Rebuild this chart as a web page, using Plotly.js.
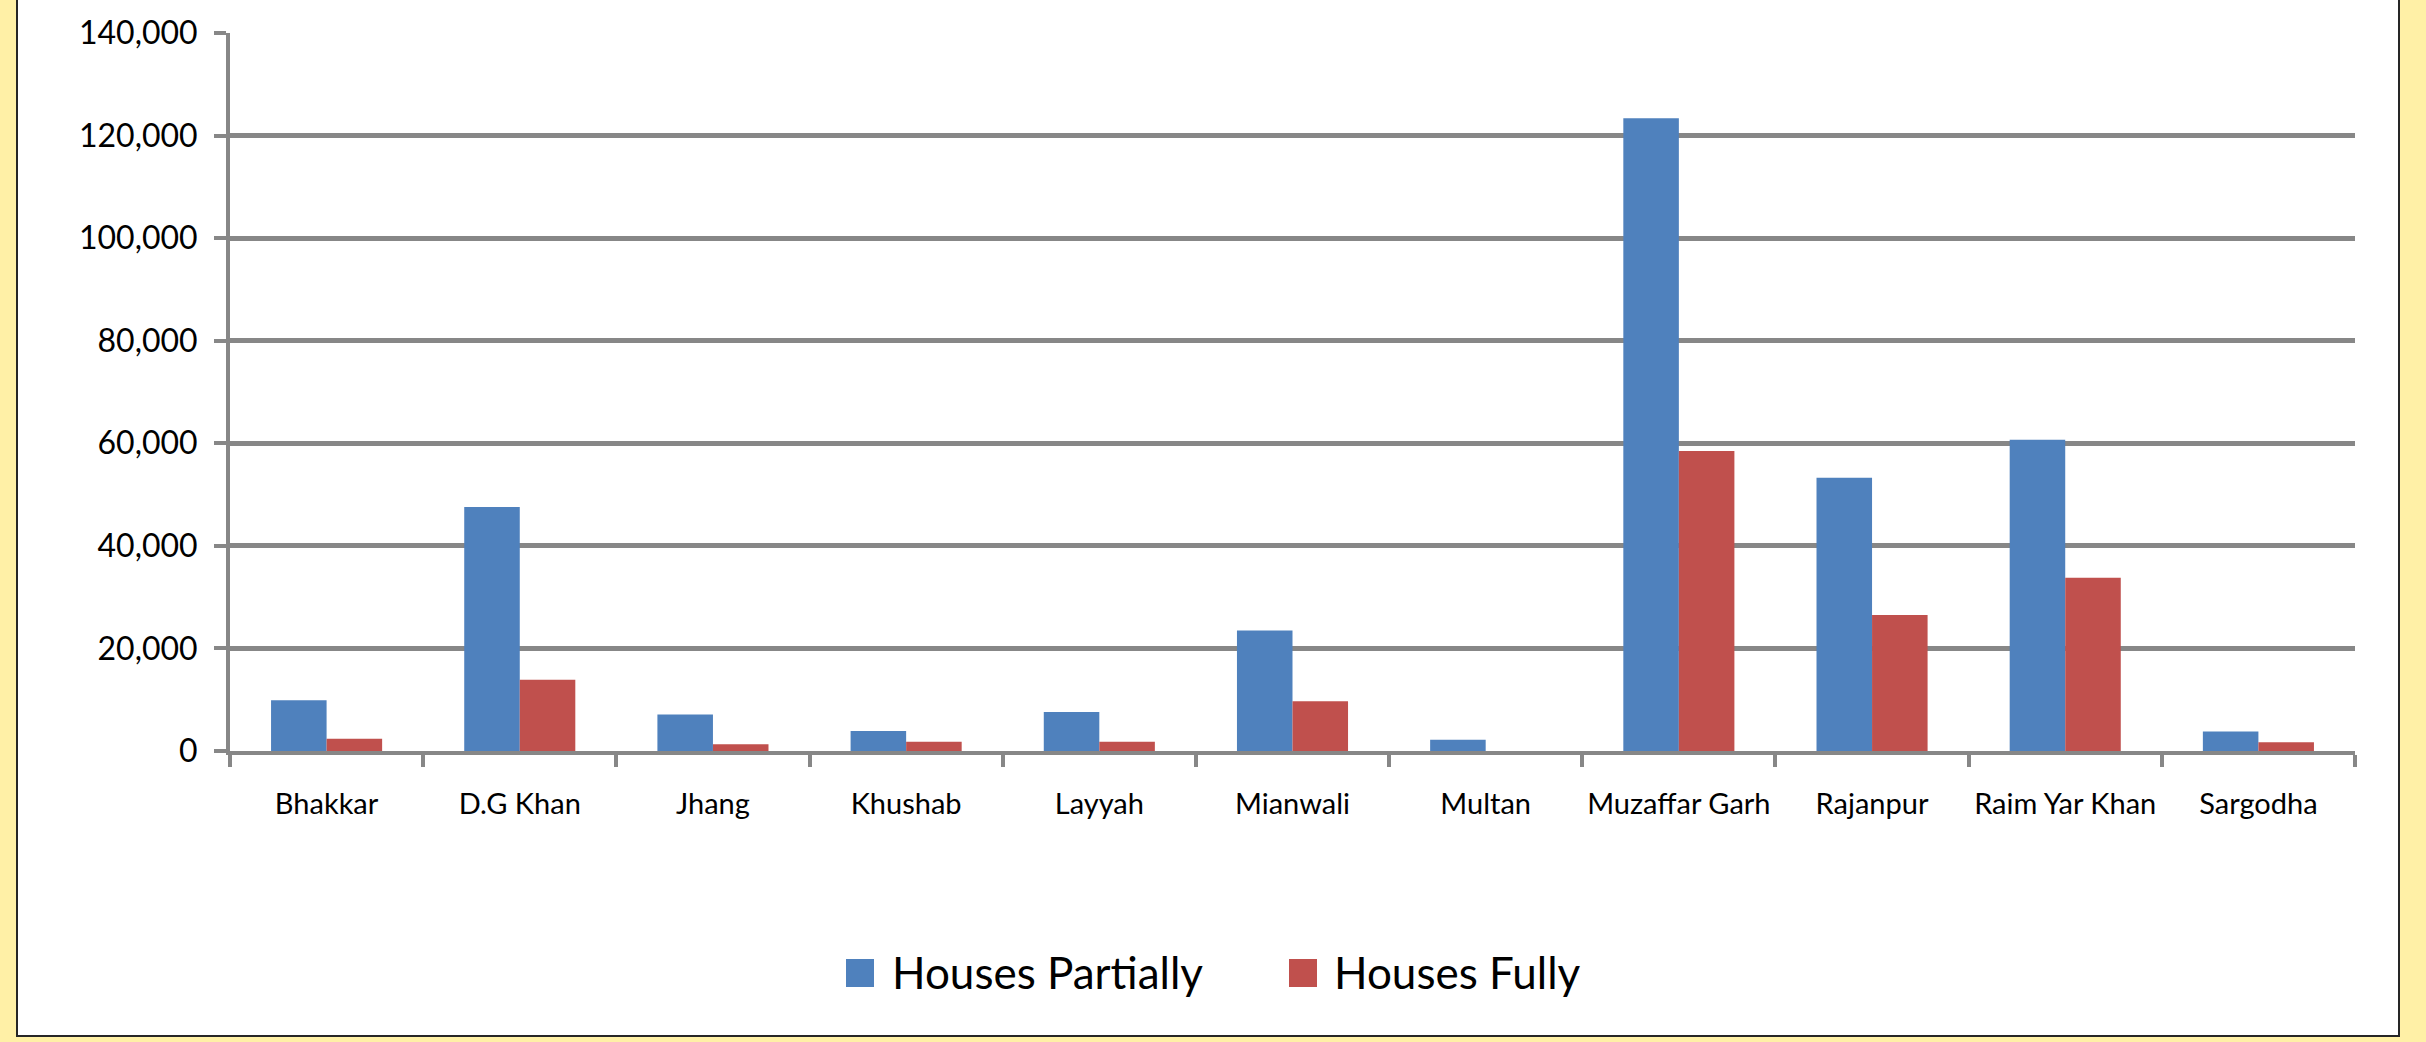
<!DOCTYPE html>
<html>
<head>
<meta charset="utf-8">
<script src="https://cdn.plot.ly/plotly-3.0.1.min.js"></script>
<style>
  html, body { margin: 0; padding: 0; background: #FFF0A6; }
  #chart { width: 2426px; height: 1042px; }
</style>
</head>
<body>
<div id="chart"></div>
<script>
// ---- data ----
const categories = ['Bhakkar', 'D.G Khan', 'Jhang', 'Khushab', 'Layyah', 'Mianwali', 'Multan', 'Muzaffar Garh', 'Rajanpur', 'Raim Yar Khan', 'Sargodha'];
const housesPartially = [9900, 47600, 7100, 3900, 7600, 23500, 2200, 123400, 53300, 60700, 3800];
const housesFully = [2400, 13900, 1300, 1800, 1800, 9700, 0, 58500, 26500, 33800, 1700];
const seriesNames = ['Houses Partially', 'Houses Fully'];
const seriesColors = ['#4F81BD', '#C0504D'];
const yTickValues = [0, 20000, 40000, 60000, 80000, 100000, 120000, 140000];

// ---- layout geometry (pixels) ----
const W = 2426, H = 1042;
const M = { l: 230, r: 71, t: 33, b: 291 };
const plotW = W - M.l - M.r, plotH = H - M.t - M.b;
const px = x => (x - M.l) / plotW;           // page x -> paper x
const py = y => (H - M.b - y) / plotH;        // page y -> paper y

const FONT = 'Lato, "Open Sans", sans-serif';
const GRID = '#878787';

const traces = [
  { type: 'bar', name: seriesNames[0], x: categories, y: housesPartially,
    marker: { color: seriesColors[0], line: { width: 0 } }, showlegend: false, hoverinfo: 'skip' },
  { type: 'bar', name: seriesNames[1], x: categories, y: housesFully,
    marker: { color: seriesColors[1], line: { width: 0 } }, showlegend: false, hoverinfo: 'skip' }
];

// manual legend (large square keys as in the reference)
const legendItems = [
  { sq: 846, tx: 890 },
  { sq: 1289, tx: 1332 }
];
const shapes = [
  { type: 'rect', xref: 'paper', yref: 'paper', layer: 'below',
    x0: px(17), x1: px(2399), y0: py(1036), y1: py(-10),
    fillcolor: '#FFFFFF', line: { color: '#262626', width: 2 } }
];
const annotations = [];
legendItems.forEach((it, i) => {
  shapes.push({ type: 'rect', xref: 'paper', yref: 'paper',
    x0: px(it.sq), x1: px(it.sq + 28), y0: py(987), y1: py(959),
    fillcolor: seriesColors[i], line: { width: 0 } });
  annotations.push({ xref: 'paper', yref: 'paper', x: px(it.tx), y: py(972),
    xanchor: 'left', yanchor: 'middle', showarrow: false, text: seriesNames[i],
    font: { family: FONT, size: 44, color: '#000000' } });
});

const layout = {
  width: W, height: H,
  margin: M,
  paper_bgcolor: '#FFF0A6',
  plot_bgcolor: 'rgba(0,0,0,0)',
  font: { family: FONT, color: '#000000' },
  barmode: 'group',
  bargap: 0.425,
  bargroupgap: 0,
  showlegend: false,
  xaxis: {
    type: 'category',
    tickson: 'boundaries',
    tickangle: 0,
    ticks: 'outside', ticklen: 12, tickwidth: 4, tickcolor: GRID,
    showline: true, linecolor: GRID, linewidth: 4,
    showgrid: false, zeroline: false,
    tickfont: { family: FONT, size: 29, color: '#000000' },
    ticklabelstandoff: 24
  },
  yaxis: {
    range: [0, 140000],
    tickvals: yTickValues,
    tickformat: ',d',
    ticks: 'outside', ticklen: 12, tickwidth: 4, tickcolor: GRID,
    showline: true, linecolor: GRID, linewidth: 4,
    showgrid: true, gridcolor: GRID, gridwidth: 5,
    zeroline: false,
    tickfont: { family: FONT, size: 32, color: '#000000' },
    ticklabelstandoff: 10
  },
  shapes: shapes,
  annotations: annotations
};

Plotly.newPlot('chart', traces, layout, { displayModeBar: false, staticPlot: true });
</script>
</body>
</html>
